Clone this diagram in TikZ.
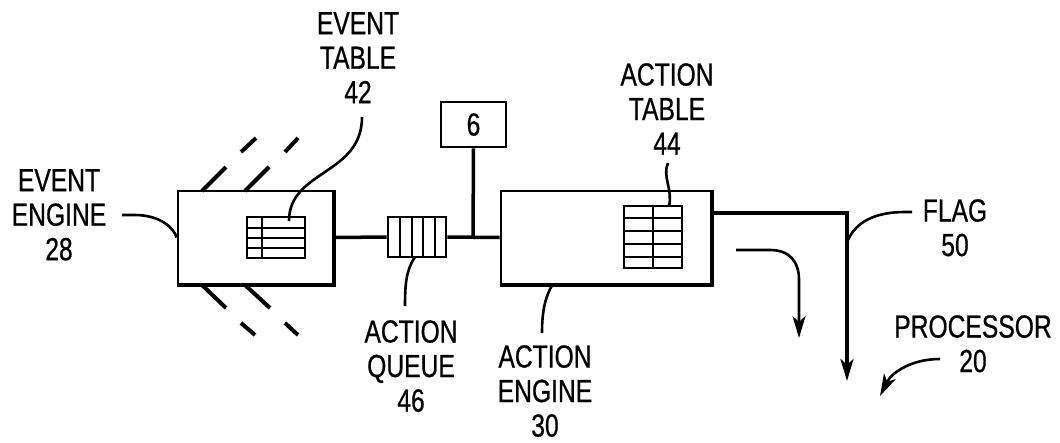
\documentclass[tikz,border=0pt]{standalone}
\usepackage{fontspec}
\newfontfamily\lab[FakeStretch=0.77,FakeBold=0.6]{Liberation Sans}
\usetikzlibrary{arrows.meta}
\begin{document}
\begin{tikzpicture}[x=1pt,y=-1pt,
  lbl/.style={font=\lab\fontsize{32}{34.5}\selectfont, align=center, inner sep=0pt, anchor=north},
  wire/.style={line width=3.5pt},
  lead/.style={line width=2.6pt},
  boxe/.style={draw, line width=2.8pt, inner sep=0pt},
  grid/.style={line width=2.6pt},
  heavy/.style={line width=4pt},
  dsh/.style={line width=4pt},
  arr/.style={-{Stealth[length=22pt,width=13pt,inset=6pt]}}]
\useasboundingbox (0,0) rectangle (1060,442);

% boxes
\node[boxe, minimum width=155pt, minimum height=93pt] (ee) at (255.5,237.5) {};
\draw[heavy] (ee.south west) -- (ee.south east) -- (ee.north east);
\node[boxe, minimum width=210pt, minimum height=93pt] (ae) at (606,237.5) {};
\draw[heavy] (ae.south west) -- (ae.south east) -- (ae.north east);
\node[boxe, minimum width=65pt, minimum height=45pt, font=\lab\fontsize{32}{34}\selectfont] (b6) at (473.5,124.5) {6};

% event table
\node[boxe, minimum width=58pt, minimum height=41pt] (et) at (276,237.5) {};
\draw[grid] (262,217) -- (262,258);
\draw[grid] (247,228) -- (305,228) (247,238) -- (305,238) (247,248) -- (305,248);

% action table
\node[boxe, minimum width=58pt, minimum height=62pt] (at) at (653,237) {};
\draw[grid] (653,206) -- (653,268);
\draw[grid] (624,218) -- (682,218) (624,231) -- (682,231) (624,244) -- (682,244) (624,257) -- (682,257);

% action queue
\node[boxe, minimum width=58pt, minimum height=40pt] (q) at (417,237) {};
\draw[grid] (400,217) -- (400,257) (412,217) -- (412,257) (423,217) -- (423,257) (435,217) -- (435,257);

% dashed lines around event engine
\draw[dsh] (202,191) -- (226,167) (241,152) -- (256,138);
\draw[dsh] (245,191) -- (269,167) (285,152) -- (298,138);
\draw[dsh] (202,285) -- (226,308) (241,323) -- (255,335);
\draw[dsh] (245,285) -- (270,308) (285,323) -- (298,335);

% connectors
\coordinate (jn) at (473,237);
\draw[wire] (ee.east) -- (q.west);
\draw[wire] (q.east) -- (ae.west);
\draw[wire] (b6.south) -- (jn);
\coordinate (fcorner) at (847,213);
\coordinate (ftip) at (847,381);
\draw[wire, arr] (ae.east |- fcorner) -- (fcorner) -- (ftip);
\coordinate (cs) at (736,250);
\coordinate (ce) at (799,338);
\draw[lead, arr] (cs) -- (770,250) .. controls (789,250) and (799,261) .. (799,280) -- (ce);

% labels
\node[lbl] (l28) at (59,169) {EVENT\\ENGINE\\28};
\node[lbl] (l42) at (358,12) {EVENT\\TABLE\\42};
\node[lbl] (l44) at (667,63) {ACTION\\TABLE\\44};
\node[lbl] (l46) at (411,320) {ACTION\\QUEUE\\46};
\node[lbl] (l30) at (545,345) {ACTION\\ENGINE\\30};
\node[lbl] (l50) at (955,199) {FLAG\\50};
\node[lbl] (l20) at (973,315) {PROCESSOR\\20};

% leaders
\draw[lead] (122,215) -- (135,215) .. controls (160,215) and (174,228) .. (ee.west);
\draw[lead] (362,117) .. controls (362,175) and (289,170) .. (289,221);
\draw[lead] (668,163) .. controls (662,176) and (673,190) .. (669,206);
\draw[lead] (415,257) .. controls (406,270) and (405,285) .. (405,306);
\draw[lead] (553,284) .. controls (544,298) and (542,315) .. (542,333);
\draw[lead] (912,212) -- (905,212) .. controls (875,212) and (856,222) .. (848,240);
\draw[lead, arr] (940,359) .. controls (912,359) and (892,372) .. (880,396);
\end{tikzpicture}
\end{document}
